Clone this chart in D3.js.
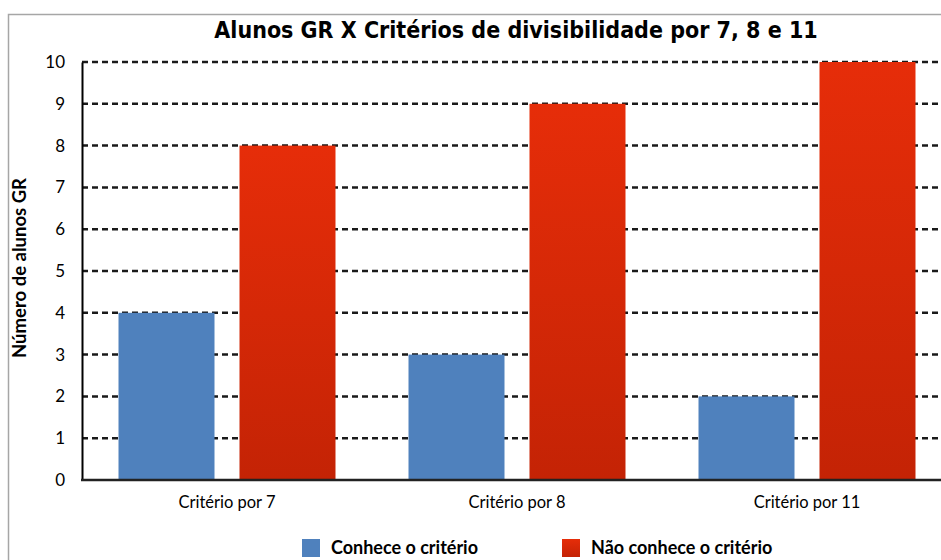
<!DOCTYPE html>
<html><head><meta charset="utf-8">
<script src="https://cdn.jsdelivr.net/npm/d3@7"></script>
<style>body{margin:0;background:#fff;overflow:hidden}svg{display:block}</style>
</head><body>
<svg id="c" width="941" height="560"></svg>
<script>
const categories = ["Critério por 7", "Critério por 8", "Critério por 11"];
const seriesNames = ["Conhece o critério", "Não conhece o critério"];
const conhece = [4, 3, 2];
const naoConhece = [8, 9, 10];
const yTicks = [0,1,2,3,4,5,6,7,8,9,10];
const title = "Alunos GR X Critérios de divisibilidade por 7, 8 e 11";
const yTitle = "Número de alunos GR";

(function(){
const svg = d3.select("#c");
const defs = svg.append("defs");
const g1 = defs.append("linearGradient").attr("id","redg").attr("x1",0).attr("y1",0).attr("x2",0).attr("y2",1);
g1.append("stop").attr("offset","0%").attr("stop-color","#e62d09");
g1.append("stop").attr("offset","100%").attr("stop-color","#c42305");

// frame
svg.append("path").attr("d","M8.5,560 L8.5,14.5 L941,14.5").attr("fill","none").attr("stroke","#a6a6a6").attr("stroke-width",1.5);

const pLeft = 82, pRight = 952, pTop = 62, pBottom = 480;
const x = d3.scaleBand().domain(categories).range([pLeft, pRight]).paddingInner(0).paddingOuter(0);
const y = d3.scaleLinear().domain([0, 10]).range([pBottom, pTop]);
const xs = d3.scaleBand().domain(seriesNames).range([0, x.bandwidth()]).paddingInner(0.2066).paddingOuter(0.3017);

// gridlines
svg.append("g").selectAll("line").data(yTicks.filter(d=>d>0)).join("line")
  .attr("x1", pLeft).attr("x2", 941).attr("y1", d=>y(d)).attr("y2", d=>y(d))
  .attr("stroke","#1a1a1a").attr("stroke-width",2.5).attr("stroke-dasharray","6,4");

const data = categories.map((c,i)=>({c, v:[conhece[i], naoConhece[i]]}));
const colors = ["#4f81bd", "url(#redg)"];
const gg = svg.append("g").selectAll("g").data(data).join("g").attr("transform", d=>`translate(${x(d.c)},0)`);
gg.selectAll("rect").data(d=>d.v.map((v,j)=>({v, s:seriesNames[j], j}))).join("rect")
  .attr("x", d=>xs(d.s)).attr("width", xs.bandwidth())
  .attr("y", d=>y(d.v)).attr("height", d=>y(0)-y(d.v))
  .attr("fill", d=>colors[d.j]);

// axes
const yAxis = d3.axisLeft(y).tickValues(yTicks).tickSize(0).tickPadding(17).tickFormat(d3.format("d"));
const ya = svg.append("g").attr("transform",`translate(${pLeft},0)`).call(yAxis);
ya.select(".domain").attr("stroke","#000").attr("stroke-width",2);
ya.selectAll("text").attr("font-family","Lato, 'Open Sans', sans-serif").attr("font-size",17).attr("fill","#000");

svg.append("line").attr("x1",pLeft-1).attr("x2",941).attr("y1",pBottom).attr("y2",pBottom).attr("stroke","#222").attr("stroke-width",2.5);

const xAxis = d3.axisBottom(x).tickSize(0).tickPadding(16);
const xa = svg.append("g").attr("transform",`translate(0,${pBottom})`).call(xAxis);
xa.select(".domain").remove();
xa.selectAll("text").attr("font-family","Lato, 'Open Sans', sans-serif").attr("font-size",16.5).attr("fill","#000");

// title
svg.append("text").attr("x", 516).attr("y", 38).attr("text-anchor","middle")
  .attr("font-family","'DejaVu Sans Condensed', 'DejaVu Sans', sans-serif").attr("font-stretch","condensed")
  .attr("font-weight","bold").attr("font-size",23).attr("fill","#000").text(title);

svg.append("text").attr("transform","translate(26,268) rotate(-90)").attr("text-anchor","middle")
  .attr("font-family","Lato, 'Open Sans', sans-serif").attr("font-weight","bold").attr("font-size",18.5).attr("fill","#000").text(yTitle);

// legend
const legX = [302, 562];
const lg = svg.append("g").selectAll("g").data(seriesNames).join("g").attr("transform",(d,i)=>`translate(${legX[i]},539)`);
lg.append("rect").attr("width",18).attr("height",18).attr("fill",(d,i)=>colors[i]);
lg.append("text").attr("x",29).attr("y",15).attr("font-family","Lato, 'Open Sans', sans-serif").attr("font-weight","bold").attr("font-size",18).attr("fill","#000").text(d=>d);
})();
</script>
</body></html>
